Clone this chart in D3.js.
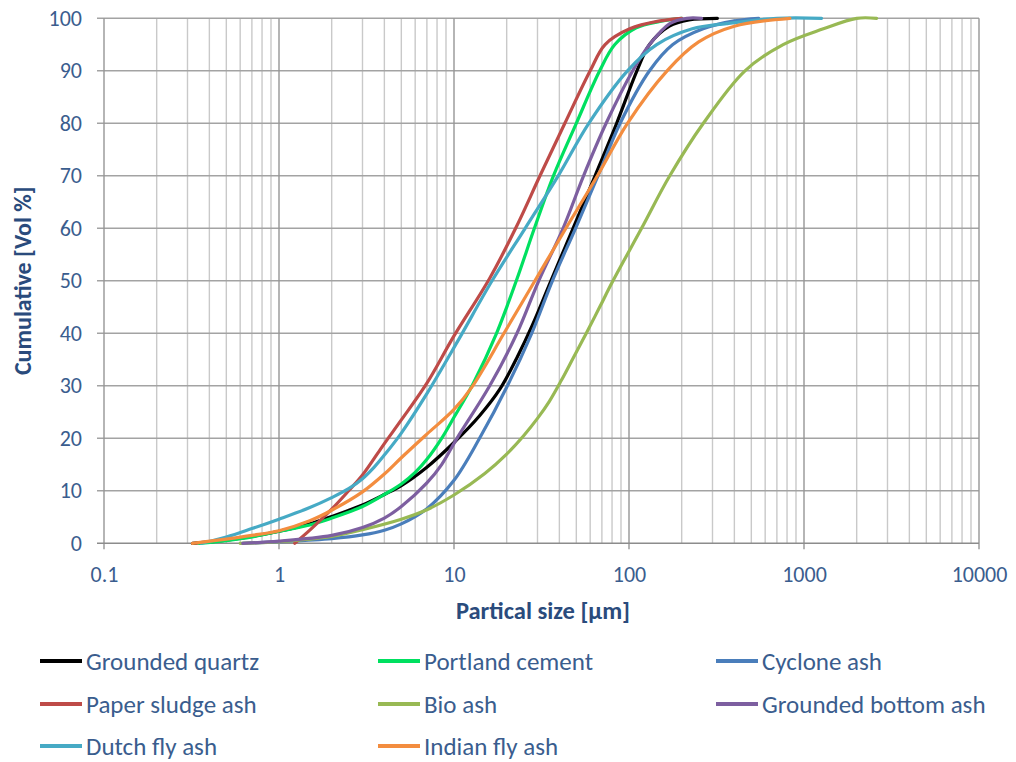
<!DOCTYPE html>
<html>
<head>
<meta charset="utf-8">
<script src="https://cdn.jsdelivr.net/npm/d3@7"></script>
<style>
  html, body { margin: 0; padding: 0; background: #ffffff; }
  svg { display: block; font-family: Carlito, Lato, "Open Sans", sans-serif; }
</style>
</head>
<body>
<svg id="chart" width="1016" height="762"></svg>
<script>
// Cumulative particle size distributions: [size in µm, cumulative vol %]
const groundedQuartz = [[0.32,0],[0.5,0.6],[0.7,1.3],[1,2.3],[1.5,3.7],[2,5.1],[3,7.3],[4,9.3],[5,11],[7,14.5],[10,19.2],[14,24.3],[18.4,29.5],[23,35.5],[28,41.5],[35.8,50],[47.9,60],[64,70],[85,80],[111,90],[131,95],[170,98.5],[220,99.7],[320,100]];
const portlandCement = [[0.35,0],[0.5,0.5],[0.7,1.2],[1,2.3],[1.5,3.5],[2,4.8],[3,7],[4,9.3],[5,11.3],[6,13.5],[7,16],[8.5,20],[10,24],[12.9,30.5],[17.5,40],[22.7,50],[28.8,60],[37,70],[50,80],[68,90],[83,95],[110,98.2],[150,99.4],[200,100]];
const cycloneAsh = [[0.62,0],[1,0.3],[2,0.9],[3,1.6],[4,2.5],[5,3.7],[7,6.6],[10,12],[14,20],[20.2,30],[27.8,40],[36.5,50],[49.5,60],[66.5,70],[89,80],[131,90],[178,95],[265,98],[400,99.5],[550,100]];
const paperSludgeAsh = [[1.23,0],[1.5,2.5],[2,6.5],[2.5,10],[3,13],[4,19],[5,23.5],[7,30.5],[10,39.5],[16,50.5],[22.5,60],[31,70],[43,80],[60,90],[73,95],[101,98],[150,99.5],[200,100]];
const bioAsh = [[0.6,0],[1,0.3],[2,1.3],[3,2.6],[5,4.6],[7,6.4],[10,9.2],[15,13.3],[20,17],[25,20.5],[30,23.8],[35,27],[41,31],[48,35.3],[57,40],[68,45],[81,50],[118,60],[171,70],[266,80],[460,90],[760,95],[1290,98],[2000,100],[2600,100]];
const groundedBottomAsh = [[0.62,0],[1,0.4],[2,1.5],[3,3],[4,4.8],[5,7],[7,11.5],[8.5,15],[10.4,20],[16,30],[22.9,40],[30.5,50],[42,60],[55,70],[74,80],[105,90],[131,95],[171,99],[214,100],[260,100]];
const dutchFlyAsh = [[0.36,0],[0.5,1.2],[0.7,2.8],[1,4.6],[1.5,6.8],[2,8.7],[2.5,10.4],[3,12.3],[3.5,14.5],[4,16.8],[5,21],[7,28.5],[10.5,38.5],[16.5,50],[25.5,60],[39.4,70],[58.9,80],[98,90],[144,95],[230,98],[362,99],[700,100],[1260,100]];
const indianFlyAsh = [[0.32,0],[0.5,0.8],[0.7,1.5],[1,2.4],[1.5,4.3],[2,6.3],[3,9.8],[4,13.2],[5,16.3],[7,20.8],[10,25.5],[12.8,30],[19.3,40],[29,50],[43.6,60],[66,70],[98,80],[165,90],[250,95.5],[400,98.5],[830,100]];

const seriesNames = ["Grounded quartz","Portland cement","Cyclone ash","Paper sludge ash","Bio ash","Grounded bottom ash","Dutch fly ash","Indian fly ash"];
const seriesData = [groundedQuartz, portlandCement, cycloneAsh, paperSludgeAsh, bioAsh, groundedBottomAsh, dutchFlyAsh, indianFlyAsh];
const seriesColors = ["#000000","#00E060","#4A7EBB","#BE4B48","#98B954","#7D5FA0","#46AAC5","#F38D3F"];

const xTicks = [0.1, 1, 10, 100, 1000, 10000];
const yTicks = [0,10,20,30,40,50,60,70,80,90,100];

const svg = d3.select("#chart");
const plotLeft = 104, plotRight = 979, plotTop = 18.3, plotBottom = 543.3;

const x = d3.scaleLog().domain([0.1, 10000]).range([plotLeft, plotRight]);
const y = d3.scaleLinear().domain([0, 100]).range([plotBottom, plotTop]);

const labelColor = "#3A5D8E";
const titleColor = "#2A4B7C";

// Minor vertical gridlines (2..9 within each decade)
const minor = [];
for (let e = -1; e < 4; e++) {
  for (let m = 2; m <= 9; m++) minor.push(m * Math.pow(10, e));
}
svg.append("g").selectAll("line").data(minor).join("line")
  .attr("x1", d => x(d)).attr("x2", d => x(d))
  .attr("y1", plotTop).attr("y2", plotBottom)
  .attr("stroke", "#C9C9C9").attr("stroke-width", 1.4);

// Horizontal gridlines
svg.append("g").selectAll("line").data(yTicks.filter(d => d > 0)).join("line")
  .attr("x1", plotLeft - 7).attr("x2", plotRight)
  .attr("y1", d => y(d)).attr("y2", d => y(d))
  .attr("stroke", "#A3A3A3").attr("stroke-width", 1.4);

// Major vertical gridlines at each decade
svg.append("g").selectAll("line").data(xTicks).join("line")
  .attr("x1", d => x(d)).attr("x2", d => x(d))
  .attr("y1", plotTop).attr("y2", plotBottom + 6)
  .attr("stroke", "#969696").attr("stroke-width", 1.4);

// Axis line
svg.append("line").attr("x1", plotLeft - 7).attr("x2", plotRight)
  .attr("y1", plotBottom).attr("y2", plotBottom)
  .attr("stroke", "#8C8C8C").attr("stroke-width", 1.4);

// Y axis labels
const yAxis = d3.axisLeft(y).tickValues(yTicks).tickSize(0).tickPadding(0);
const gy = svg.append("g").attr("transform", `translate(${plotLeft - 22},0)`).call(yAxis);
gy.select(".domain").remove();
gy.selectAll("text").attr("fill", labelColor).attr("font-size", 22)
  .attr("font-family", "Carlito, Lato, sans-serif");

// X axis labels
const xAxis = d3.axisBottom(x).tickValues(xTicks).tickFormat(d => String(d)).tickSize(0).tickPadding(0);
const gx = svg.append("g").attr("transform", `translate(0,${plotBottom + 23})`).call(xAxis);
gx.select(".domain").remove();
gx.selectAll("text").attr("fill", labelColor).attr("font-size", 22)
  .attr("font-family", "Carlito, Lato, sans-serif");

// Axis titles
svg.append("text").attr("x", 543).attr("y", 619)
  .attr("text-anchor", "middle").attr("font-weight", "bold").attr("font-size", 24.5)
  .attr("fill", titleColor).text("Partical size [µm]");
svg.append("text").attr("transform", `translate(31,${(plotTop + plotBottom) / 2}) rotate(-90)`)
  .attr("text-anchor", "middle").attr("font-weight", "bold").attr("font-size", 24)
  .attr("fill", titleColor).text("Cumulative [Vol %]");

// Distribution curves (smoothed through the measured points)
const line = d3.line().x(d => x(d[0])).y(d => y(Math.min(100, d[1])))
  .curve(d3.curveCatmullRom.alpha(0.5));
svg.append("g").selectAll("path").data(seriesData).join("path")
  .attr("d", line).attr("fill", "none")
  .attr("stroke", (d, i) => seriesColors[i]).attr("stroke-width", 3.2)
  .attr("stroke-linejoin", "round").attr("stroke-linecap", "round");

// Legend
const legendCols = [40, 378, 716], legendRows = [661, 704, 746];
const legend = svg.append("g").selectAll("g").data(seriesNames).join("g")
  .attr("transform", (d, i) => `translate(${legendCols[i % 3]},${legendRows[Math.floor(i / 3)]})`);
legend.append("line").attr("x1", 0).attr("x2", 42).attr("y1", 0).attr("y2", 0)
  .attr("stroke", (d, i) => seriesColors[i]).attr("stroke-width", 4);
legend.append("text").attr("x", 46).attr("y", 0).attr("dy", "0.35em")
  .attr("font-size", 25).attr("fill", labelColor).text(d => d);
</script>
</body>
</html>
